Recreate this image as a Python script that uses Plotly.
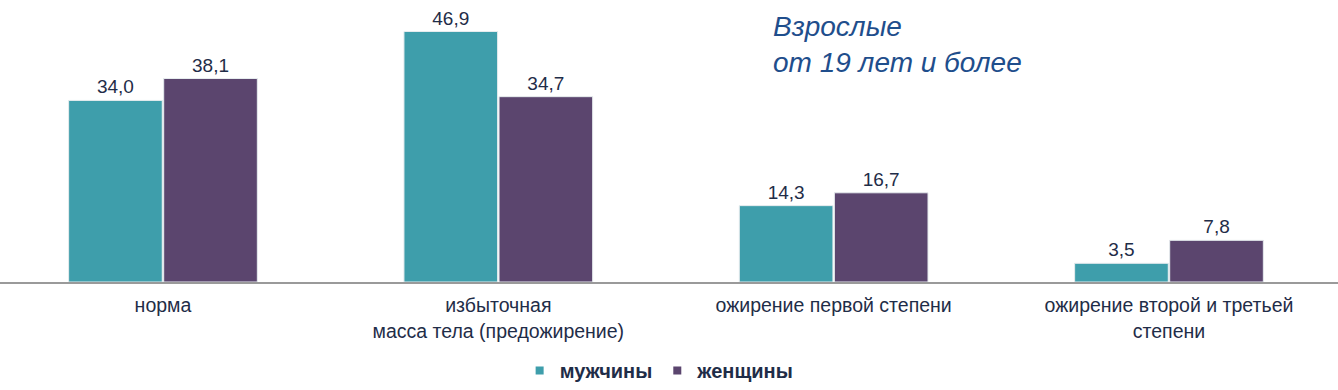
import plotly.graph_objects as go

categories = ["норма", "избыточная<br>масса тела (предожирение)", "ожирение первой степени",
              "ожирение второй и третьей<br>степени"]
men = [34.0, 46.9, 14.3, 3.5]
women = [38.1, 34.7, 16.7, 7.8]
men_labels = ["34,0", "46,9", "14,3", "3,5"]
women_labels = ["38,1", "34,7", "16,7", "7,8"]
series_names = ["мужчины", "женщины"]
series_colors = ["#3e9eab", "#5b456e"]

FONT = "Liberation Sans, Arial, sans-serif"
TXT = "#1f2d48"

fig = go.Figure()
for vals, labels, name, color in zip([men, women], [men_labels, women_labels], series_names, series_colors):
    fig.add_trace(go.Bar(x=categories, y=vals, name=name, marker_color=color,
                         marker_line=dict(color="#e6ecee", width=1),
                         text=labels, textposition="outside",
                         textfont=dict(size=19, color=TXT, family=FONT),
                         cliponaxis=False, showlegend=False))
# legend entries (small square symbols)
for name, color in zip(series_names, series_colors):
    fig.add_trace(go.Scatter(x=[None], y=[None], mode="markers", name="<b>" + name + "</b>",
                             marker=dict(symbol="square", size=8, color=color), showlegend=True))

fig.update_layout(
    width=1338, height=390,
    margin=dict(l=0, r=0, t=0, b=107),
    paper_bgcolor="white", plot_bgcolor="white",
    barmode="group", bargap=0.433, bargroupgap=0.015,
    font=dict(family=FONT, color=TXT, size=19.5),
    showlegend=True,
    legend=dict(orientation="h", x=0.493, xanchor="center", y=-0.315, yanchor="middle",
                font=dict(size=20, color=TXT, family=FONT),
                itemwidth=30, traceorder="normal"),
    xaxis=dict(range=[-0.486, 3.504], showline=True, linecolor="#9a9a9a", linewidth=1.5,
               ticks="", tickfont=dict(size=19.5, color=TXT), showgrid=False,
               ticklabelstandoff=5),
    yaxis=dict(range=[0, 52.8], visible=False, showgrid=False),
)

fig.add_annotation(text="<i>Взрослые</i>", xref="paper", yref="paper", x=0.576, y=0.905,
                   xanchor="left", yanchor="middle", showarrow=False,
                   font=dict(size=28, color="#1f4e8c", family=FONT))
fig.add_annotation(text="<i>от 19 лет и более</i>", xref="paper", yref="paper", x=0.576, y=0.778,
                   xanchor="left", yanchor="middle", showarrow=False,
                   font=dict(size=28, color="#1f4e8c", family=FONT))

fig.write_html("out.html", config={"displayModeBar": False},
               post_script="document.body.style.margin='0';document.body.style.overflow='hidden';")
